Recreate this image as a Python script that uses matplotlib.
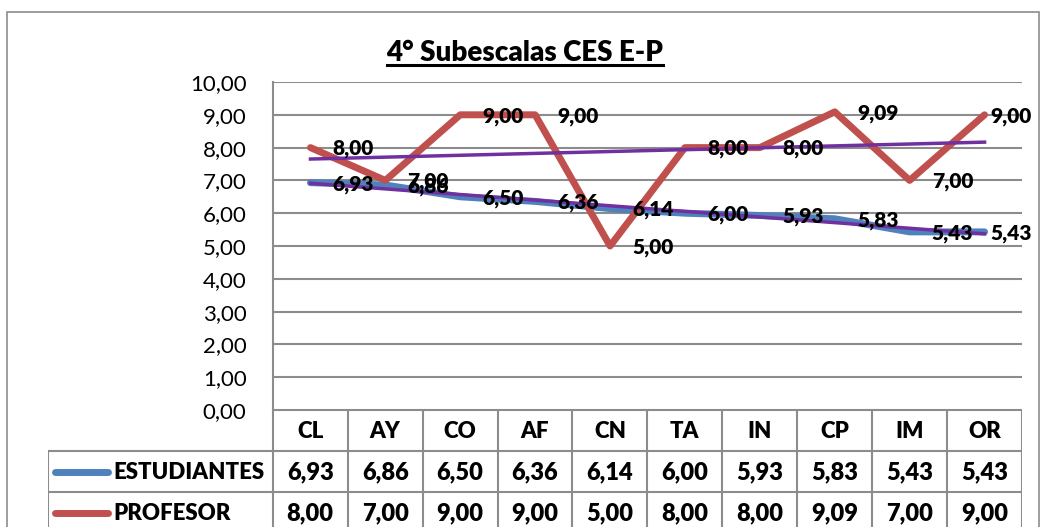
import numpy as np
import matplotlib
matplotlib.use("Agg")
from matplotlib import pyplot as plt
from matplotlib.lines import Line2D
from matplotlib.patches import Rectangle

plt.rcParams['font.family'] = ['Lato', 'DejaVu Sans']

categorias = ['CL', 'AY', 'CO', 'AF', 'CN', 'TA', 'IN', 'CP', 'IM', 'OR']
estudiantes = [6.93, 6.86, 6.50, 6.36, 6.14, 6.00, 5.93, 5.83, 5.43, 5.43]
profesor = [8.00, 7.00, 9.00, 9.00, 5.00, 8.00, 8.00, 9.09, 7.00, 9.00]
series = ['ESTUDIANTES', 'PROFESOR']
titulo = '4° Subescalas CES E-P'
yticks = np.arange(0, 11, 1)

azul = '#4F81BD'
rojo = '#C0504D'
morado = '#7030A0'
gris = '#8C8C8C'
peso = 'heavy'

W, H = 1044, 527
fig = plt.figure(figsize=(W / 100, H / 100), dpi=100)

def px(x0, y0, x1, y1):
    # pixel box (top-left origin) -> figure fraction rect
    return [x0 / W, 1 - y1 / H, (x1 - x0) / W, (y1 - y0) / H]

# outer chart border
fig.patches.append(Rectangle((7 / W, -0.05), (1039 - 7) / W, 1.05 - 12 / H,
                             transform=fig.transFigure, fill=False,
                             edgecolor=gris, lw=1.2))

ax = fig.add_axes(px(273, 82, 1022, 410))
n = len(categorias)
x = np.arange(n) + 0.5
ax.set_xlim(0, n)
ax.set_ylim(0, 10)
ax.set_yticks(yticks)
ax.set_yticklabels([f'{v:.2f}'.replace('.', ',') for v in yticks], fontsize=16)
ax.tick_params(axis='y', length=0, pad=19)
ax.set_xticks([])
ax.grid(axis='y', color=gris, lw=1.5)
ax.set_axisbelow(True)
for s in ['top', 'right', 'bottom']:
    ax.spines[s].set_visible(False)
ax.spines['left'].set_color(gris)
ax.spines['left'].set_linewidth(1.5)

ax.plot(x, estudiantes, color=azul, lw=5, solid_capstyle='round', zorder=3)
ax.plot(x, profesor, color=rojo, lw=5, solid_capstyle='round', zorder=3)

# linear trendlines
for vals in (estudiantes, profesor):
    k, b = np.polyfit(x, vals, 1)
    ax.plot(x, k * x + b, color=morado, lw=2.5, zorder=4)

# data labels to the right of each point
for vals in (estudiantes, profesor):
    for i, v in enumerate(vals):
        dx = 4 if i == n - 1 else 16
        ax.annotate(f'{v:.2f}'.replace('.', ','), (x[i], v), xytext=(dx, -1),
                    textcoords='offset points', ha='left', va='center',
                    fontsize=15, fontweight=peso, zorder=5,
                    annotation_clip=False)

# title with underline
t = fig.text(525 / W, 1 - 61 / H, titulo, ha='center', va='baseline',
             fontsize=20, fontweight=peso)
fig.canvas.draw()
bb = t.get_window_extent()
fig.lines.append(Line2D([bb.x0 / W, bb.x1 / W], [(H - 65) / H, (H - 65) / H],
                        transform=fig.transFigure, color='black', lw=2.2))

# data table
tab = fig.add_axes(px(48, 410, 1022, 533))
tab.set_xlim(-3.0, n)
tab.set_ylim(3, 0)
tab.axis('off')
lc = dict(color=gris, lw=1.5)
tab.plot([0, n], [0, 0], **lc)
for i in range(n + 1):
    tab.plot([i, i], [0, 3], **lc)
tab.plot([-3.0, n], [1, 1], **lc)
tab.plot([-3.0, n], [2, 2], **lc)
tab.plot([-3.0, n], [3, 3], **lc)
tab.plot([-3.0, -3.0], [1, 3], **lc)
for i, c in enumerate(categorias):
    tab.text(i + 0.5, 0.52, c, ha='center', va='center', fontsize=16,
             fontweight=peso)
for r, (nombre, vals, col) in enumerate(zip(series, [estudiantes, profesor],
                                            [azul, rojo])):
    yy = r + 1.5
    tab.plot([-2.9, -2.2], [yy, yy], color=col, lw=5, solid_capstyle='round')
    tab.text(-2.13, yy + 0.02, nombre, ha='left', va='center', fontsize=16,
             fontweight=peso)
    for i, v in enumerate(vals):
        tab.text(i + 0.5, yy + 0.02, f'{v:.2f}'.replace('.', ','),
                 ha='center', va='center', fontsize=17, fontweight=peso)

fig.savefig('out.png', dpi=100)
